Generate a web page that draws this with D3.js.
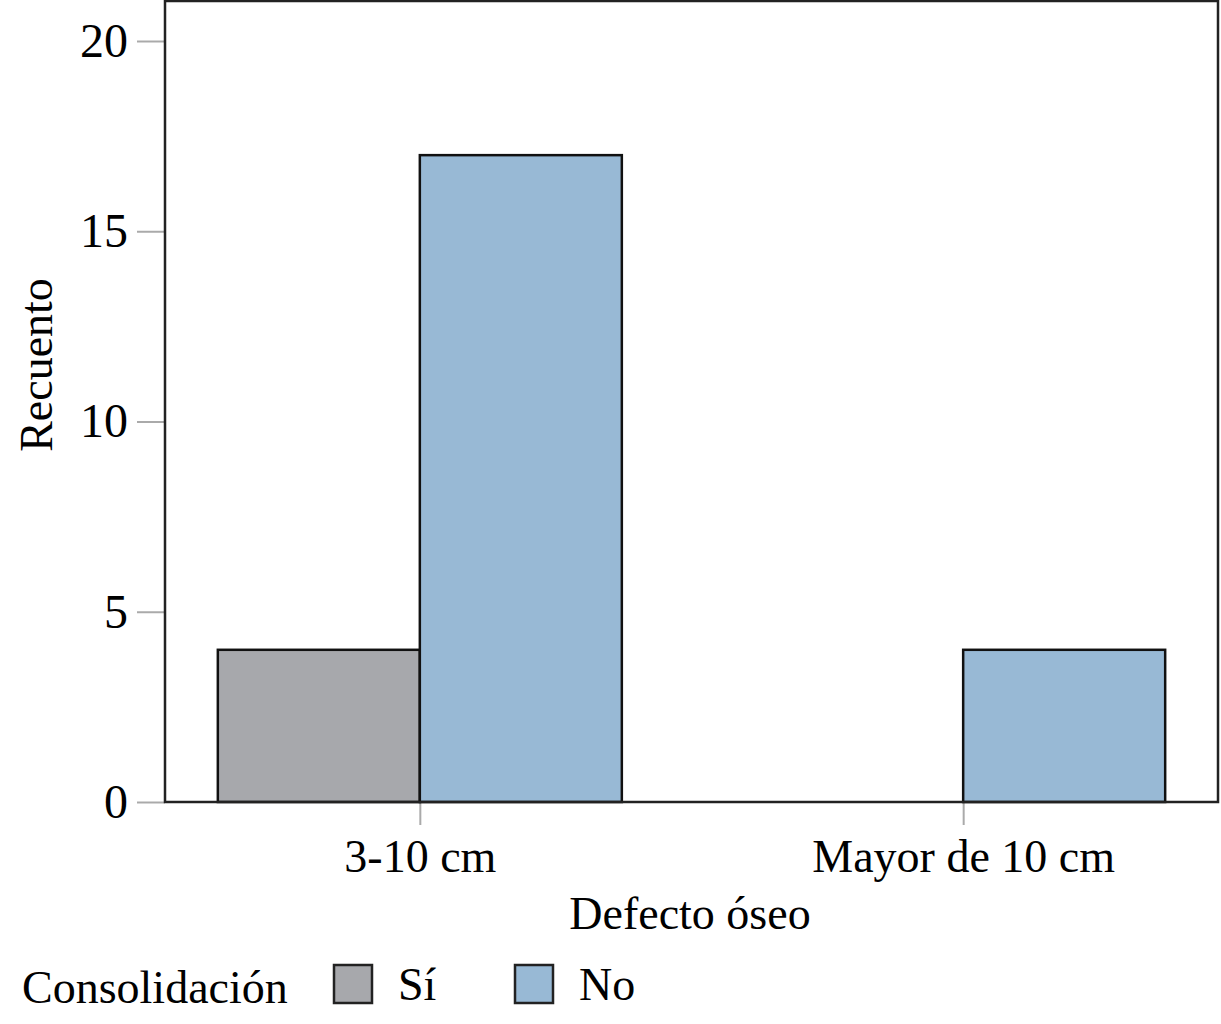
<!DOCTYPE html>
<html>
<head>
<meta charset="utf-8">
<script src="https://cdn.jsdelivr.net/npm/d3@7"></script>
<style>
  body { margin: 0; background: #fff; }
  svg text { font-family: "Liberation Serif", "Times New Roman", serif; fill: #000; }
</style>
</head>
<body>
<svg width="1221" height="1024"></svg>
<script>
// data
var categories = ["3-10 cm", "Mayor de 10 cm"];
var groups = ["Sí", "No"];
var siValues = [4, 0];
var noValues = [17, 4];
var yTicks = [0, 5, 10, 15, 20];
var colors = { "Sí": "#a7a8ac", "No": "#98b9d5" };

var svg = d3.select("svg");
var m = { left: 165, right: 1218, top: 1, bottom: 802 };

var x = d3.scalePoint().domain(categories).range([m.left, m.right]).padding(0.469);
var y = d3.scaleLinear().domain([0, 20]).range([m.bottom, 41]);
var barW = 202;

var rows = [];
categories.forEach(function (c, i) {
  rows.push({ cat: c, grp: "Sí", v: siValues[i] });
  rows.push({ cat: c, grp: "No", v: noValues[i] });
});

// axes
var yAxis = svg.append("g").attr("transform", "translate(" + m.left + ",0)")
  .call(d3.axisLeft(y).tickValues(yTicks).tickSize(28).tickPadding(9));
var xAxis = svg.append("g").attr("transform", "translate(0," + m.bottom + ")")
  .call(d3.axisBottom(x).tickSize(23).tickPadding(14));
[yAxis, xAxis].forEach(function (a) {
  a.select(".domain").remove();
  a.selectAll(".tick line").attr("stroke", "#aaaaaa").attr("stroke-width", 2);
  a.selectAll(".tick text").attr("font-family", "Liberation Serif").attr("fill", "#000");
});
yAxis.selectAll(".tick text").attr("font-size", 48);
xAxis.selectAll(".tick text").attr("font-size", 46);

// bars
svg.append("g").selectAll("rect")
  .data(rows.filter(function (d) { return d.v > 0; }))
  .enter().append("rect")
  .attr("x", function (d) { return d.grp === "Sí" ? x(d.cat) - barW : x(d.cat); })
  .attr("y", function (d) { return y(d.v); })
  .attr("width", barW)
  .attr("height", function (d) { return y(0) - y(d.v); })
  .attr("fill", function (d) { return colors[d.grp]; })
  .attr("stroke", "#111")
  .attr("stroke-width", 2.5);

// frame
svg.append("rect")
  .attr("x", m.left).attr("y", m.top)
  .attr("width", m.right - m.left).attr("height", m.bottom - m.top)
  .attr("fill", "none").attr("stroke", "#222").attr("stroke-width", 2.5);

// titles
svg.append("text").attr("x", 690).attr("y", 929).attr("text-anchor", "middle")
  .attr("font-size", 46).text("Defecto óseo");
svg.append("text").attr("transform", "translate(52,365) rotate(-90)")
  .attr("text-anchor", "middle").attr("font-size", 46).text("Recuento");

// legend
svg.append("text").attr("x", 22).attr("y", 1003).attr("font-size", 46).text("Consolidación");
var legX = [334, 515];
groups.forEach(function (g, i) {
  svg.append("rect").attr("x", legX[i]).attr("y", 965).attr("width", 38).attr("height", 38)
    .attr("fill", colors[g]).attr("stroke", "#222").attr("stroke-width", 2.5);
  svg.append("text").attr("x", legX[i] + 64).attr("y", 1000).attr("font-size", 46).text(g);
});
</script>
</body>
</html>
